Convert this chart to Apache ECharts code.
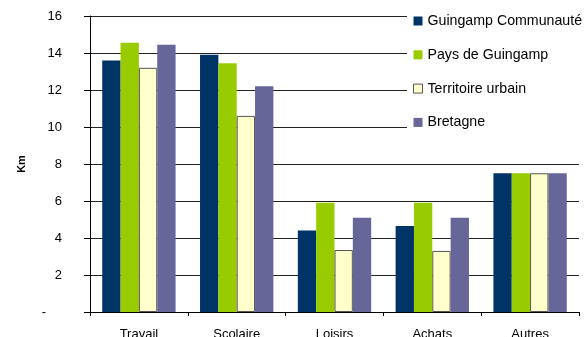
<!DOCTYPE html>
<html><head><meta charset="utf-8">
<script src="https://cdn.jsdelivr.net/npm/echarts@6/dist/echarts.min.js"></script>
<style>html,body{margin:0;padding:0;background:#fff}#c{width:588px;height:337px}</style>
</head><body><div id="c"></div>
<script>
const categories = ['Travail', 'Scolaire', 'Loisirs', 'Achats', 'Autres'];
const seriesNames = ['Guingamp Communauté', 'Pays de Guingamp', 'Territoire urbain', 'Bretagne'];
const guingampCommunaute = [13.6, 13.9, 4.4, 4.65, 7.5];
const paysDeGuingamp = [14.55, 13.45, 5.9, 5.9, 7.5];
const territoireUrbain = [13.2, 10.6, 3.35, 3.3, 7.5];
const bretagne = [14.45, 12.2, 5.1, 5.1, 7.5];
const colors = ['#003366', '#99CC00', '#FFFFCC', '#666699'];
const values = [guingampCommunaute, paysDeGuingamp, territoireUrbain, bretagne];

const chart = echarts.init(document.getElementById('c'), null, {renderer: 'canvas'});
const font = 'Liberation Sans, Arial, sans-serif';
chart.setOption({
  animation: false,
  backgroundColor: '#fff',
  grid: {left: 90, right: 9, top: 16, bottom: 25, containLabel: false, outerBoundsMode: 'none'},
  legend: {
    orient: 'vertical', left: 407, top: 8,
    backgroundColor: '#fff', padding: [6, 4, 10, 6],
    itemWidth: 9, itemHeight: 9, itemGap: 19.8,
    textStyle: {fontFamily: font, fontSize: 14.2, color: '#000'},
    data: seriesNames.map((n, i) => ({name: n, icon: 'rect',
      itemStyle: i === 2 ? {color: colors[i], borderColor: '#555', borderWidth: 1} : {color: colors[i]}}))
  },
  xAxis: {
    type: 'category', data: categories,
    axisLine: {lineStyle: {color: '#000', width: 1}},
    axisTick: {show: true, length: 4, lineStyle: {color: '#000'}},
    axisLabel: {fontFamily: font, fontSize: 13, color: '#000', margin: 16}
  },
  yAxis: {
    type: 'value', min: 0, max: 16, interval: 2,
    name: 'Km', nameLocation: 'middle', nameGap: 63, nameRotate: 90,
    nameTextStyle: {fontFamily: font, fontSize: 11, fontWeight: 'bold', color: '#000'},
    axisLine: {show: true, lineStyle: {color: '#000', width: 1}},
    axisTick: {show: true, length: 6, lineStyle: {color: '#000'}},
    axisLabel: {fontFamily: font, fontSize: 13, color: '#000', margin: 28,
      formatter: v => v === 0 ? '{d|-}' : String(v),
      rich: {d: {fontFamily: font, fontSize: 13, color: '#000', padding: [0, 16, 0, 0]}}},
    splitLine: {show: true, lineStyle: {color: '#222', width: 1}}
  },
  series: seriesNames.map((n, i) => ({
    name: n, type: 'bar', data: values[i],
    barGap: '0%', barCategoryGap: '25%',
    itemStyle: i === 2 ? {color: colors[i], borderColor: '#555', borderWidth: 1} : {color: colors[i]}
  }))
});
</script></body></html>
